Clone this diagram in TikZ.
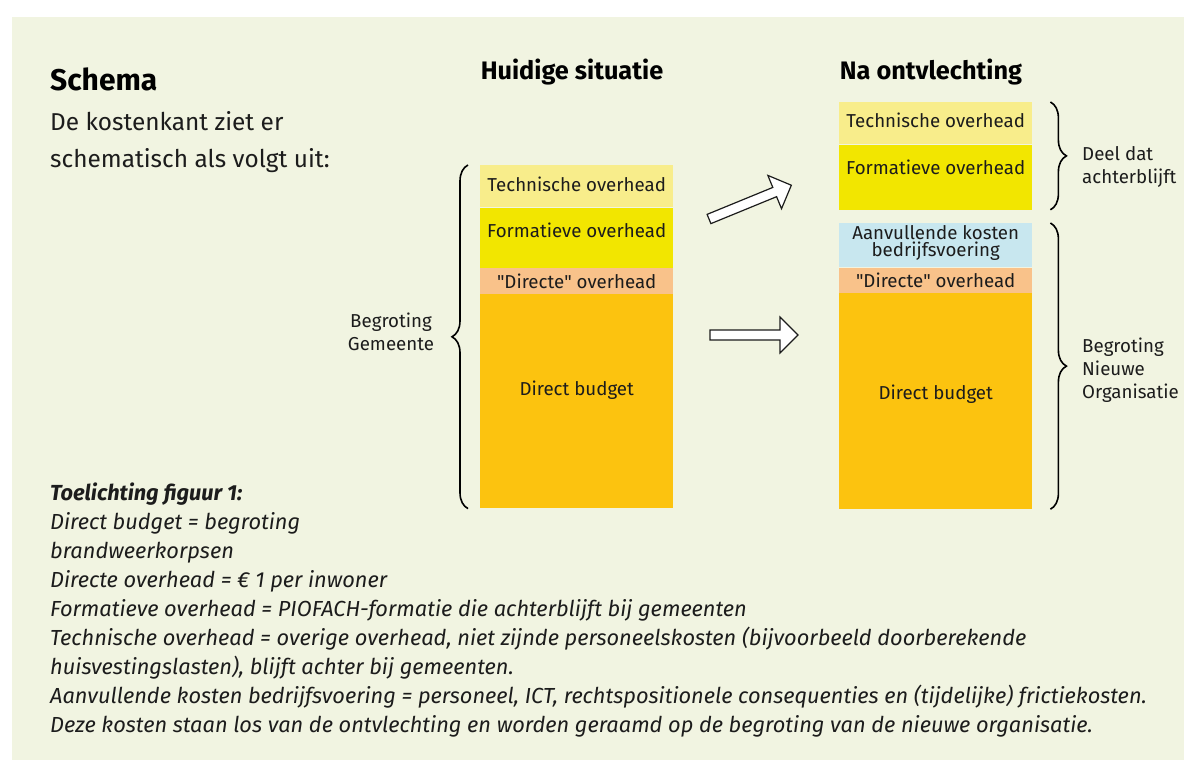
\documentclass[tikz,border=0pt]{standalone}
\usepackage{fontspec}
\setmainfont{Fira Sans}
\newfontfamily\rechtfont{Fira Sans}
\usetikzlibrary{positioning,decorations.pathreplacing}

\definecolor{panel}{HTML}{F1F4E1}
\definecolor{techn}{HTML}{F8ED8B}
\definecolor{format}{HTML}{F2E600}
\definecolor{direct}{HTML}{F9C28A}
\definecolor{budget}{HTML}{FCC30F}
\definecolor{aanv}{HTML}{C8E7EF}
\definecolor{ink}{HTML}{1C1C1C}

\newcommand{\aanh}{{\rechtfont"}}

\tikzset{
  blok/.style={inner sep=0pt, minimum width=193pt, anchor=north west},
  lbl/.style={font=\fontsize{18.7}{23}\selectfont, inner sep=0pt, text=ink},
  head/.style={font=\fontsize{25.3}{28}\selectfont\bfseries, inner sep=0pt, text=black},
  note/.style={font=\fontsize{21.8}{29}\selectfont\itshape, inner sep=0pt, anchor=base west, text=ink},
  accolade/.style={decorate, decoration={brace, amplitude=16pt}, line width=1.6pt},
  blokpijl/.style={draw=ink, fill=white, line width=1.2pt, line join=miter}
}

\begin{document}
\begin{tikzpicture}[x=1pt,y=-1pt]
\useasboundingbox (0,0) rectangle (1184,760);
\fill[panel] (12,17) rectangle (1184,760);

% intro
\node[anchor=base west, inner sep=0pt, font=\fontsize{30}{34}\selectfont\bfseries] (schema) at (50,91) {Schema};
\node[anchor=base west, inner sep=0pt, font=\fontsize{24.4}{37}\selectfont, text=ink] (intro1) at (50,130) {De kostenkant ziet er};
\node[anchor=base west, inner sep=0pt, font=\fontsize{24.4}{37}\selectfont, text=ink] (intro2) at (50,167) {schematisch als volgt uit:};

\node[head] (huidig) at (572,72) {Huidige situatie};
\node[head] (na) at (931,72) {Na ontvlechting};

% huidige situatie
\node[blok, fill=techn, minimum height=42pt] (lt) at (480,165) {};
\node[blok, fill=format, minimum height=60pt, below=0pt of lt] (lf) {};
\node[blok, fill=direct, minimum height=26pt, below=0pt of lf] (ld) {};
\node[blok, fill=budget, minimum height=214pt, below=0pt of ld] (lb) {};

\node[lbl] (ltl) at ([yshift=2pt]lt.center) {Technische overhead};
\node[lbl] (lfl) at ([yshift=7pt]lf.center) {Formatieve overhead};
\node[lbl] (ldl) at (ld.center) {\aanh Directe\aanh\ overhead};
\node[lbl] (lbl) at ([yshift=11pt]lb.center) {Direct budget};

% na ontvlechting
\node[blok, fill=techn, minimum height=42pt] (rt) at (839,102) {};
\node[blok, fill=format, minimum height=65pt, below=0pt of rt] (rf) {};
\node[blok, fill=aanv, minimum height=44pt] (ra) at (839,223) {};
\node[blok, fill=direct, minimum height=25pt, below=0pt of ra] (rd) {};
\node[blok, fill=budget, minimum height=216pt, below=0pt of rd] (rb) {};

\node[lbl] (rtl) at ([yshift=3pt]rt.center) {Technische overhead};
\node[lbl] (rfl) at ([yshift=10pt]rf.center) {Formatieve overhead};
\node[lbl, align=center, font=\fontsize{18.7}{16.5}\selectfont] (ral) at ([yshift=2pt]ra.center) {Aanvullende kosten\\bedrijfsvoering};
\node[lbl] (rdl) at (rd.center) {\aanh Directe\aanh\ overhead};
\node[lbl] (rbl) at ([yshift=7pt]rb.center) {Direct budget};

% accolades
\draw[accolade] ([xshift=-12pt]lb.south west) -- ([xshift=-12pt]lt.north west);
\draw[accolade] ([xshift=18pt]rt.north east) -- ([xshift=18pt]rf.south east);
\draw[accolade] ([xshift=18pt]ra.north east) -- ([xshift=18pt]rb.south east);

\node[lbl, align=center] (gem) at (391,332) {Begroting\\Gemeente};
\node[lbl, align=left, anchor=west] (deel) at (1082,167) {Deel dat\\achterblijft};
\node[lbl, align=left, anchor=west] (nieuw) at (1082,370) {Begroting\\Nieuwe\\Organisatie};

% pijlen
\begin{scope}[shift={(709,219)}, rotate=22.3]
\draw[blokpijl] (0,-5) -- (71,-5) -- (71,-18) -- (89,0) -- (71,18) -- (71,5) -- (0,5) -- cycle;
\end{scope}
\begin{scope}[shift={(710,335)}]
\draw[blokpijl] (0,-5) -- (70,-5) -- (70,-18) -- (88,0) -- (70,18) -- (70,5) -- (0,5) -- cycle;
\end{scope}

% toelichting
\node[note, font=\fontsize{21.8}{29}\selectfont\bfseries\itshape] (toel) at (50,500) {Toelichting figuur 1:};
\foreach \regel [count=\i] in {
  {Direct budget = begroting},
  {brandweerkorpsen},
  {Directe overhead = € 1 per inwoner},
  {Formatieve overhead = PIOFACH-formatie die achterblijft bij gemeenten},
  {Technische overhead = overige overhead, niet zijnde personeelskosten (bijvoorbeeld doorberekende},
  {huisvestingslasten), blijft achter bij gemeenten.},
  {Aanvullende kosten bedrijfsvoering = personeel, ICT, rechtspositionele consequenties en (tijdelijke) frictiekosten.},
  {Deze kosten staan los van de ontvlechting en worden geraamd op de begroting van de nieuwe organisatie.}}
  \node[note] (regel\i) at (50,500+29*\i) {\regel};

\end{tikzpicture}
\end{document}
